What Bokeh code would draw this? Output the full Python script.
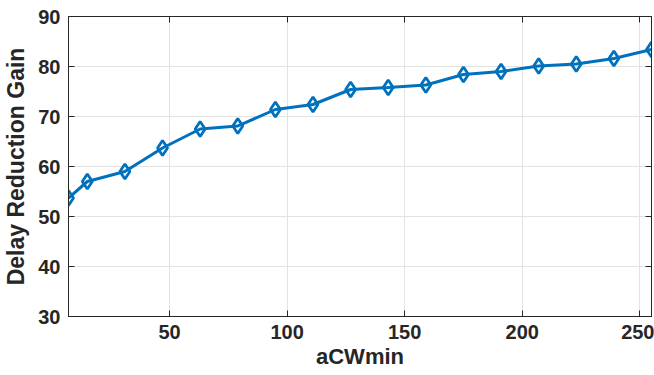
from bokeh.plotting import figure
from bokeh.models import LinearAxis, FixedTicker, Range1d, CustomJSTickFormatter
from bokeh.embed import file_html
from bokeh.resources import INLINE

acwmin = [7, 15, 31, 47, 63, 79, 95, 111, 127, 143, 159, 175, 191, 207, 223, 239, 255]
gain = [53.7, 57.0, 59.0, 63.7, 67.5, 68.1, 71.4, 72.4, 75.4, 75.8, 76.3, 78.4, 79.0, 80.1, 80.5, 81.6, 83.4]
x_ticks = [50, 100, 150, 200, 250]
y_ticks = [30, 40, 50, 60, 70, 80, 90]

FONT = "Liberation Sans"
AX = "#262626"

p = figure(width=654, height=375, output_backend="svg", toolbar_location=None,
           x_range=Range1d(7, 255), y_range=Range1d(30, 90),
           min_border_left=67, min_border_right=3, min_border_top=16, min_border_bottom=59)
p.outline_line_color = AX
p.outline_line_width = 1
p.background_fill_color = "white"
p.border_fill_color = "white"

p.line(acwmin, gain, line_color="#0072BD", line_width=3)
p.scatter(acwmin, gain, marker="diamond", size=15, fill_color=None,
          line_color="#0072BD", line_width=2.8)

for ax in (p.xaxis[0], p.yaxis[0]):
    ax.major_tick_in = 6
    ax.major_tick_out = 0
    ax.minor_tick_in = 0
    ax.minor_tick_out = 0
    ax.axis_line_color = AX
    ax.major_tick_line_color = AX
    ax.major_label_text_font = FONT
    ax.major_label_text_font_style = "bold"
    ax.major_label_text_font_size = "20px"
    ax.major_label_text_color = AX
    ax.axis_label_text_font = FONT
    ax.axis_label_text_font_style = "bold"
    ax.axis_label_text_color = AX

p.xaxis[0].ticker = FixedTicker(ticks=x_ticks)
p.yaxis[0].ticker = FixedTicker(ticks=y_ticks)
p.xaxis[0].axis_label = "aCWmin"
p.yaxis[0].axis_label = "Delay Reduction Gain"
p.xaxis[0].axis_label_text_font_size = "22px"
p.yaxis[0].axis_label_text_font_size = "23px"
p.xaxis[0].axis_label_standoff = 2
p.yaxis[0].axis_label_standoff = 6
p.xaxis[0].major_label_standoff = 8
p.yaxis[0].major_label_standoff = 8

blank = CustomJSTickFormatter(code="return ''")
top = LinearAxis(ticker=FixedTicker(ticks=x_ticks), formatter=blank, major_label_standoff=0,
                 major_tick_in=6, major_tick_out=0, minor_tick_in=0, minor_tick_out=0,
                 axis_line_color=AX, major_tick_line_color=AX)
right = LinearAxis(ticker=FixedTicker(ticks=y_ticks), formatter=blank, major_label_standoff=0,
                   major_tick_in=6, major_tick_out=0, minor_tick_in=0, minor_tick_out=0,
                   axis_line_color=AX, major_tick_line_color=AX)
p.add_layout(top, "above")
p.add_layout(right, "right")

p.xgrid.ticker = FixedTicker(ticks=x_ticks)
p.ygrid.ticker = FixedTicker(ticks=y_ticks)
p.grid.grid_line_color = "#E3E3E3"
p.grid.grid_line_width = 1

open("out.html", "w").write(file_html(p, INLINE))
